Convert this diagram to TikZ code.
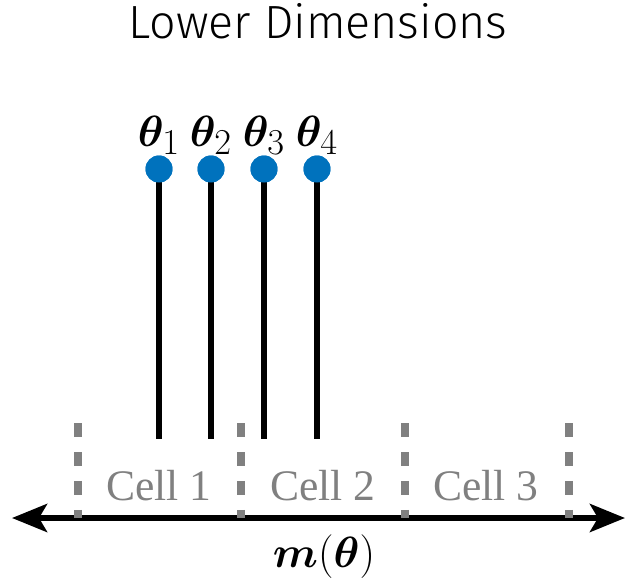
\documentclass[tikz,border=0pt]{standalone}
\usepackage{amsmath,amssymb,bm}
\usepackage{fontspec}
\setmainfont{Liberation Serif}
\newfontfamily\titlefont{Fira Sans Light}
\usetikzlibrary{arrows.meta}
\definecolor{dotblue}{HTML}{0072BD}
\definecolor{cellgray}{HTML}{808080}

\begin{document}
\begin{tikzpicture}[
    x=0.02cm, y=-0.02cm,
    param/.style={circle, fill=dotblue, inner sep=0pt, minimum size=0.54cm},
    stem/.style={line width=3.4pt, black},
    border/.style={line width=4pt, cellgray, dash pattern=on 0.28cm off 0.30cm},
    cell/.style={anchor=base, text=cellgray, font=\fontsize{24.8}{28}\selectfont},
    lbl/.style={anchor=base, font=\fontsize{30}{34}\selectfont},
    axis/.style={{Stealth[length=7mm, width=5.6mm, inset=1.6mm]}-{Stealth[length=7mm, width=5.6mm, inset=1.6mm]},
                 line width=3.4pt},
]
\useasboundingbox (0,0) rectangle (630,579);

% Title
\node[anchor=base, font=\titlefont\fontsize{26.5}{30}\selectfont] (title) at (318,38) {Lower Dimensions};

% Axis
\coordinate (left) at (12,518);
\coordinate (right) at (625,518);
\draw[axis] (left) -- (right);
\node[anchor=base, font=\fontsize{32}{36}\selectfont] (mtheta) at (324,567) {$\bm{m}(\bm{\theta})$};

% Cell borders
\foreach \x [count=\i] in {78,241,405,569} {
  \coordinate (top\i) at (\x,423);
  \coordinate (bot\i) at (\x,518);
  \draw[border] (top\i) -- (bot\i);
}

% Cells
\node[cell] (cell1) at (159,500) {Cell 1};
\node[cell] (cell2) at (323,500) {Cell 2};
\node[cell] (cell3) at (486,500) {Cell 3};

% Parameters
\foreach \x [count=\i] in {159,211,264,317} {
  \coordinate (base\i) at (\x,439);
  \node[param] (p\i) at (\x,169) {};
  \draw[stem] (p\i.center) -- (base\i);
  \node[param] at (p\i) {};
  \node[lbl] (t\i) at (\x,146) {$\bm{\theta}_{\i}$};
}

\end{tikzpicture}
\end{document}
